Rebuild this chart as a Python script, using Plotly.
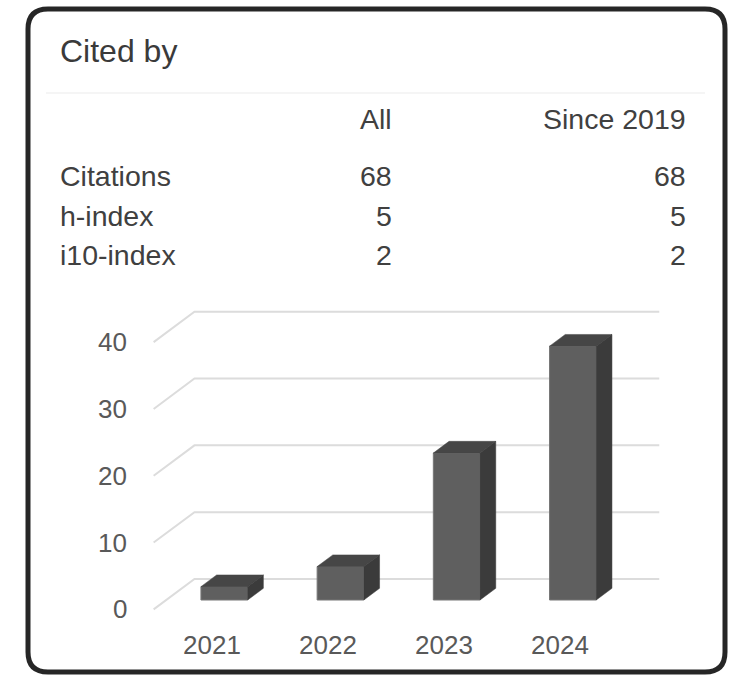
import plotly.graph_objects as go

# --- data -------------------------------------------------------------
years = ["2021", "2022", "2023", "2024"]
citations_per_year = [2, 5, 22, 38]
y_ticks = [0, 10, 20, 30, 40]

title_text = "Cited by"
col_headers = ["All", "Since 2019"]
row_labels = ["Citations", "h-index", "i10-index"]
values_all = [68, 5, 2]
values_since = [68, 5, 2]

# --- figure geometry (pixels) -----------------------------------------
W, H = 736, 675
FONT = "Arial, 'Liberation Sans', sans-serif"

# category axis: bar front centre of category i sits at X0 + i*DX_CAT px
X0, DX_CAT = 224.3, 116.2
# value axis: value 0 on the bar front plane at Y0 px, PX_PER_UNIT px per unit
Y0, PX_PER_UNIT = 600.0, 6.68

# oblique depth vector for one "bar depth" unit, in data units
DEPTH_X = 15.7 / DX_CAT
DEPTH_Y = 11.7 / PX_PER_UNIT
FLOOR_FRONT = -0.8   # depth of the floor front edge
WALL = 1.8           # depth of the back wall
BAR_W = 0.402

x_range = [(0 - X0) / DX_CAT, (W - X0) / DX_CAT]
y_range = [(Y0 - H) / PX_PER_UNIT, Y0 / PX_PER_UNIT]


def px(x):
    return x / W


def py(y):
    return 1 - y / H


fig = go.Figure()

# bar front faces
fig.add_trace(go.Bar(
    x=list(range(len(years))), y=citations_per_year, width=BAR_W,
    marker=dict(color="#5f5f5f", line=dict(color="#767676", width=1)),
    hoverinfo="skip", showlegend=False,
))

# top and side faces of each bar
for i, v in enumerate(citations_per_year):
    xl, xr = i - BAR_W / 2, i + BAR_W / 2
    fig.add_trace(go.Scatter(
        x=[xl, xr, xr + DEPTH_X, xl + DEPTH_X, xl],
        y=[v, v, v + DEPTH_Y, v + DEPTH_Y, v],
        mode="lines", fill="toself", fillcolor="#464646",
        line=dict(color="#464646", width=0.5),
        hoverinfo="skip", showlegend=False,
    ))
    fig.add_trace(go.Scatter(
        x=[xr, xr + DEPTH_X, xr + DEPTH_X, xr, xr],
        y=[0, DEPTH_Y, v + DEPTH_Y, v, 0],
        mode="lines", fill="toself", fillcolor="#3b3b3b",
        line=dict(color="#3b3b3b", width=0.5),
        hoverinfo="skip", showlegend=False,
    ))

shapes = []

# gridlines (behind the bars): floor-front diagonal then along the back wall
cat_lo, cat_hi = -0.5, len(years) - 0.5
for t in y_ticks:
    xa, ya = cat_lo + FLOOR_FRONT * DEPTH_X, t + FLOOR_FRONT * DEPTH_Y
    xb, yb = cat_lo + WALL * DEPTH_X, t + WALL * DEPTH_Y
    xc = cat_hi + WALL * DEPTH_X
    shapes.append(dict(
        type="path", xref="x", yref="y", layer="below",
        path=f"M {xa} {ya} L {xb} {yb} L {xc} {yb}",
        line=dict(color="#dcdcdc", width=2),
    ))

annotations = []

# value axis labels at the floor-front ends of the gridlines
for t in y_ticks:
    annotations.append(dict(
        x=cat_lo + FLOOR_FRONT * DEPTH_X, y=t + FLOOR_FRONT * DEPTH_Y,
        xref="x", yref="y", text=str(t), showarrow=False,
        xanchor="right", yanchor="middle", xshift=-25,
        font=dict(family=FONT, size=26, color="#595959"),
    ))

# category labels below the floor front edge
for i, yr in enumerate(years):
    annotations.append(dict(
        x=i + FLOOR_FRONT * DEPTH_X, y=FLOOR_FRONT * DEPTH_Y,
        xref="x", yref="y", text=yr, showarrow=False,
        xanchor="center", yanchor="middle", yshift=-36,
        font=dict(family=FONT, size=26, color="#595959"),
    ))

# card title
annotations.append(dict(
    x=px(58), y=py(51), xref="paper", yref="paper", text=title_text,
    showarrow=False, xanchor="left", yanchor="middle",
    font=dict(family=FONT, size=32, color="#3a3a3a"),
))

# stats table
TABLE_SIZE = 28.5
col_right = [394, 688]
for hdr, xr in zip(col_headers, col_right):
    annotations.append(dict(
        x=px(xr), y=py(119), xref="paper", yref="paper", text=hdr,
        showarrow=False, xanchor="right", yanchor="middle",
        font=dict(family=FONT, size=TABLE_SIZE, color="#404040"),
    ))
row_y = [176.5, 216, 255.5]
for lbl, va, vs, ry in zip(row_labels, values_all, values_since, row_y):
    annotations.append(dict(
        x=px(58), y=py(ry), xref="paper", yref="paper", text=lbl,
        showarrow=False, xanchor="left", yanchor="middle",
        font=dict(family=FONT, size=TABLE_SIZE, color="#404040"),
    ))
    for val, xr in zip([va, vs], col_right):
        annotations.append(dict(
            x=px(xr), y=py(ry), xref="paper", yref="paper", text=str(val),
            showarrow=False, xanchor="right", yanchor="middle",
            font=dict(family=FONT, size=TABLE_SIZE, color="#404040"),
        ))

# rounded card outline
L, T, R, B, r = 28, 9, 725, 672, 20
card_path = (
    f"M {px(L + r)} {py(T)} L {px(R - r)} {py(T)} "
    f"Q {px(R)} {py(T)} {px(R)} {py(T + r)} "
    f"L {px(R)} {py(B - r)} Q {px(R)} {py(B)} {px(R - r)} {py(B)} "
    f"L {px(L + r)} {py(B)} Q {px(L)} {py(B)} {px(L)} {py(B - r)} "
    f"L {px(L)} {py(T + r)} Q {px(L)} {py(T)} {px(L + r)} {py(T)} Z"
)
shapes += [
    dict(type="path", path=card_path, xref="paper", yref="paper",
         line=dict(color="#262626", width=5), layer="above"),
    dict(type="line", xref="paper", yref="paper",
         x0=px(46), x1=px(705), y0=py(93), y1=py(93),
         line=dict(color="#f2f2f2", width=1.5)),
]

fig.update_layout(
    width=W, height=H,
    margin=dict(l=0, r=0, t=0, b=0),
    paper_bgcolor="white", plot_bgcolor="white",
    xaxis=dict(range=x_range, visible=False, fixedrange=True),
    yaxis=dict(range=y_range, visible=False, fixedrange=True),
    barmode="overlay",
    annotations=annotations,
    shapes=shapes,
    showlegend=False,
)

fig.write_html("out.html", config={"displayModeBar": False})
